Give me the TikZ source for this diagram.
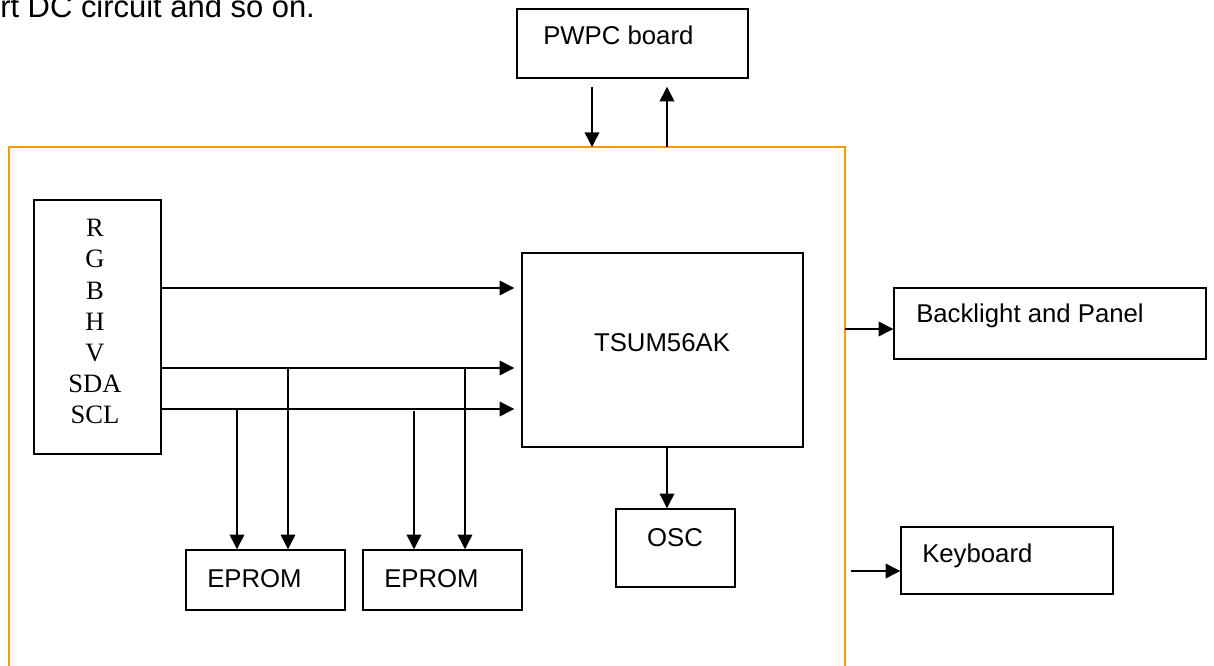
\documentclass[tikz,border=0pt]{standalone}
\usepackage{fontspec}
\setmainfont{Liberation Serif}
\newfontfamily\arialf{Liberation Sans}
\usetikzlibrary{arrows.meta}
\definecolor{ornge}{RGB}{255,153,0}
\begin{document}
\begin{tikzpicture}[x=0.75pt,y=-0.75pt,
  rect/.style 2 args={draw, line width=1.1pt, minimum width=#1*0.75pt, minimum height=#2*0.75pt, inner sep=0pt},
  lbl/.style={inner sep=0pt, anchor=base west, font=\arialf\fontsize{19.3}{23}\selectfont},
  clbl/.style={inner sep=0pt, anchor=base, font=\arialf\fontsize{19.3}{23}\selectfont},
  sigtxt/.style={inner sep=0pt, text depth=0pt, font=\fontsize{19.9}{23}\selectfont},
  arr/.style={line width=1.1pt, -{Triangle[length=11pt,width=11pt]}},
  orangeline/.style={draw=ornge, line width=1.5pt}]
\useasboundingbox (0,0) rectangle (1214,666);

% header text
\node[inner sep=0pt, anchor=base west, font=\arialf\fontsize{23.2}{27}\selectfont] (hdr) at (0,18) {rt DC circuit and so on.};

% orange frame
\coordinate (oTL) at (9,147);
\coordinate (oTR) at (845,147);
\coordinate (yBot) at (0,667);
\draw[orangeline] (oTL |- yBot) -- (oTL) -- (oTR) -- (oTR |- yBot);

% boxes
\node[rect={231}{69}] (pwpc) at (632.5,43.5) {};
\node[lbl] (pwpct) at (543,45) {PWPC board};

\node[rect={127}{254}] (sig) at (97.5,327) {};
\foreach \t [count=\i] in {R,G,B,H,V,SDA,SCL}
  \node[sigtxt] (s\i) at (95,{228+31.2*(\i-1)}) {\t};

\node[rect={281}{194}] (tsum) at (662.5,350) {};
\node[clbl] (tsumt) at (662,352) {TSUM56AK};

\node[rect={159}{60}] (ep1) at (265.5,580) {};
\node[lbl] (ep1t) at (207,587) {EPROM};
\node[rect={159}{60}] (ep2) at (442.5,580) {};
\node[lbl] (ep2t) at (384,587) {EPROM};

\node[rect={119}{78}] (osc) at (675.5,548) {};
\node[clbl] (osct) at (675,546) {OSC};

\node[rect={312}{71}] (back) at (1050,323.5) {};
\node[lbl] (backt) at (916,323) {Backlight and Panel};

\node[rect={212}{67}] (key) at (1007,560.5) {};
\node[lbl] (keyt) at (922,562) {Keyboard};

% helper coordinates
\coordinate (xa) at (592,0);
\coordinate (xb) at (667,0);
\coordinate (yB) at (0,288);
\coordinate (ySDA) at (0,368);
\coordinate (ySCL) at (0,409);
\coordinate (x1) at (237,0);
\coordinate (x2) at (288,0);
\coordinate (x3) at (414,0);
\coordinate (x4) at (465,0);
\coordinate (yBL) at (0,329);
\coordinate (yK) at (0,571);

% PWPC connectors
\draw[arr, shorten <=6pt] (pwpc.south -| xa) -- (oTL -| xa);
\draw[arr, shorten >=6pt] (oTL -| xb) -- (pwpc.south -| xb);

% signal rows
\draw[arr, shorten >=5.25pt] (sig.east |- yB) -- (tsum.west |- yB);
\draw[arr, shorten >=5.25pt] (sig.east |- ySDA) -- (tsum.west |- ySDA);
\draw[arr, shorten >=5.25pt] (sig.east |- ySCL) -- (tsum.west |- ySCL);

% EPROM drops
\draw[arr] (ySCL -| x1) -- (ep1.north -| x1);
\draw[arr] (ySDA -| x2) -- (ep1.north -| x2);
\draw[arr, shorten <=1.5pt] (ySCL -| x3) -- (ep2.north -| x3);
\draw[arr] (ySDA -| x4) -- (ep2.north -| x4);

% OSC
\draw[arr] (tsum.south -| xb) -- (osc.north -| xb);

% outputs
\draw[arr] (oTR |- yBL) -- (back.west |- yBL);
\draw[arr, shorten <=4.5pt] (oTR |- yK) -- (key.west |- yK);
\end{tikzpicture}
\end{document}
